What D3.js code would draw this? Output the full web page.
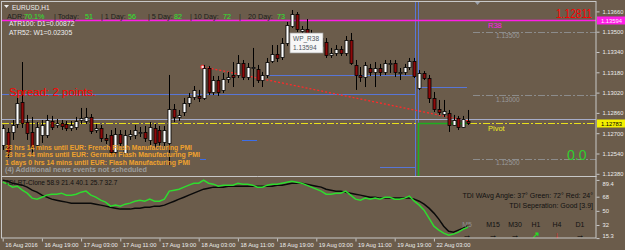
<!DOCTYPE html>
<html>
<head>
<meta charset="utf-8">
<script src="https://cdn.jsdelivr.net/npm/d3@7"></script>
<style>
    body { margin: 0; background: #fff; }
    svg { display: block; font-family: "Liberation Sans", Arial, sans-serif; }
</style>
</head>
<body>
<svg id="chart"></svg>
<script>
const width = 625, height = 250

// EURUSD H1 bars, 16 Aug 11:00 .. 22 Aug 10:00
const opens = [
    1.12607, 1.12710, 1.12710, 1.12773, 1.12946, 1.12788, 1.12710, 1.12607, 1.12686, 1.12686,
    1.12796, 1.12765, 1.12781, 1.12773, 1.12741, 1.12749, 1.12804, 1.12796, 1.12828, 1.12725,
    1.12741, 1.12662, 1.12686, 1.12552, 1.12694, 1.12544, 1.12678, 1.12686, 1.12702, 1.12710,
    1.12647, 1.12741, 1.12725, 1.12631, 1.12623, 1.12891, 1.12828, 1.12867, 1.12938, 1.12985,
    1.12993, 1.12978, 1.13214, 1.13025, 1.13119, 1.13041, 1.13127, 1.13159, 1.13159, 1.13253,
    1.13143, 1.13214, 1.13206, 1.13119, 1.13159, 1.13269, 1.13324, 1.13301, 1.13411, 1.13545,
    1.13640, 1.13506, 1.13521, 1.13490, 1.13403, 1.13450, 1.13419, 1.13316, 1.13332, 1.13364,
    1.13332, 1.13435, 1.13238, 1.13159, 1.13143, 1.13214, 1.13183, 1.13214, 1.13183, 1.13246,
    1.13253, 1.13175, 1.13183, 1.13222, 1.13269, 1.13056, 1.13175, 1.13135, 1.12978, 1.12891,
    1.12851, 1.12859, 1.12765, 1.12820, 1.12749, 1.12796]
const highs = [
    1.12765, 1.12741, 1.12804, 1.12978, 1.13261, 1.12844, 1.12828, 1.12788, 1.12804, 1.12844,
    1.12836, 1.12812, 1.12804, 1.12796, 1.12796, 1.12828, 1.12899, 1.12899, 1.12851, 1.12773,
    1.12765, 1.12694, 1.12725, 1.12741, 1.12725, 1.12725, 1.12725, 1.12765, 1.12749, 1.12757,
    1.12788, 1.12773, 1.12757, 1.12757, 1.13159, 1.12930, 1.12883, 1.12978, 1.13017, 1.13072,
    1.13041, 1.13238, 1.13230, 1.13151, 1.13151, 1.13175, 1.13183, 1.13261, 1.13316, 1.13277,
    1.13253, 1.13372, 1.13238, 1.13183, 1.13293, 1.13395, 1.13395, 1.13450, 1.13577, 1.13671,
    1.13655, 1.13545, 1.13600, 1.13514, 1.13482, 1.13482, 1.13450, 1.13372, 1.13395, 1.13387,
    1.13466, 1.13490, 1.13277, 1.13222, 1.13261, 1.13246, 1.13261, 1.13246, 1.13277, 1.13277,
    1.13277, 1.13214, 1.13246, 1.13293, 1.13293, 1.13198, 1.13190, 1.13159, 1.13025, 1.12962,
    1.12962, 1.12883, 1.12844, 1.12836, 1.12836, 1.12883]
const lows = [
    1.12568, 1.12505, 1.12647, 1.12741, 1.12741, 1.12647, 1.12528, 1.12568, 1.12623, 1.12662,
    1.12725, 1.12741, 1.12725, 1.12717, 1.12717, 1.12725, 1.12773, 1.12773, 1.12694, 1.12702,
    1.12631, 1.12615, 1.12520, 1.12528, 1.12592, 1.12520, 1.12647, 1.12654, 1.12670, 1.12631,
    1.12607, 1.12584, 1.12599, 1.12599, 1.12449, 1.12788, 1.12796, 1.12836, 1.12907, 1.12962,
    1.12946, 1.12962, 1.13001, 1.13001, 1.12993, 1.13017, 1.13096, 1.13064, 1.13135, 1.13119,
    1.13119, 1.13064, 1.13096, 1.13064, 1.13135, 1.13253, 1.13261, 1.13277, 1.13387, 1.13529,
    1.13498, 1.13482, 1.13435, 1.13395, 1.13372, 1.13356, 1.13293, 1.13293, 1.13309, 1.13309,
    1.13309, 1.13238, 1.13041, 1.13104, 1.13064, 1.13151, 1.13064, 1.13151, 1.13159, 1.13175,
    1.13143, 1.13119, 1.13159, 1.13198, 1.13135, 1.13041, 1.13119, 1.12938, 1.12867, 1.12844,
    1.12828, 1.12710, 1.12757, 1.12725, 1.12741, 1.12765]
const closes = [
    1.12741, 1.12552, 1.12765, 1.12938, 1.12781, 1.12702, 1.12592, 1.12749, 1.12765, 1.12804,
    1.12749, 1.12781, 1.12757, 1.12741, 1.12765, 1.12796, 1.12820, 1.12828, 1.12717, 1.12741,
    1.12662, 1.12647, 1.12552, 1.12694, 1.12623, 1.12686, 1.12694, 1.12725, 1.12710, 1.12662,
    1.12749, 1.12623, 1.12631, 1.12725, 1.12891, 1.12828, 1.12844, 1.12938, 1.12985, 1.13041,
    1.12978, 1.13214, 1.13025, 1.13119, 1.13025, 1.13127, 1.13143, 1.13143, 1.13253, 1.13143,
    1.13222, 1.13222, 1.13119, 1.13159, 1.13261, 1.13324, 1.13293, 1.13411, 1.13553, 1.13640,
    1.13521, 1.13521, 1.13490, 1.13419, 1.13450, 1.13387, 1.13316, 1.13332, 1.13364, 1.13332,
    1.13435, 1.13253, 1.13159, 1.13143, 1.13238, 1.13183, 1.13214, 1.13183, 1.13253, 1.13253,
    1.13183, 1.13183, 1.13222, 1.13269, 1.13151, 1.13175, 1.13135, 1.12978, 1.12891, 1.12867,
    1.12875, 1.12765, 1.12804, 1.12749, 1.12812, 1.12783]

// TDI lines (lower window)
const tdiGreen = [
    86.5, 84.0, 80.2, 81.4, 76.3, 72.5, 66.2, 64.9, 67.4, 70.0,
    71.2, 71.2, 72.5, 70.0, 70.0, 71.2, 73.8, 75.1, 70.0, 67.4,
    63.6, 61.1, 56.0, 57.3, 56.0, 58.5, 59.8, 62.3, 63.6, 62.3,
    64.9, 62.3, 62.3, 64.9, 75.1, 76.3, 77.6, 80.2, 82.7, 85.2,
    85.2, 89.1, 85.2, 84.0, 81.4, 82.7, 82.7, 82.7, 85.2, 84.0,
    84.0, 82.7, 80.2, 80.2, 82.7, 84.0, 84.0, 85.2, 86.5, 87.8,
    86.5, 85.2, 82.7, 80.2, 77.6, 75.1, 71.2, 71.2, 72.5, 72.5,
    75.1, 70.0, 64.9, 63.6, 66.2, 64.9, 66.2, 64.9, 67.4, 67.4,
    64.9, 64.9, 66.2, 68.7, 62.3, 57.3, 50.9, 40.7, 30.5, 25.4,
    21.6, 19.1, 20.4, 22.9, 26.7, 29.3]
const tdiBlack = [
    89.1, 87.8, 85.2, 84.0, 82.7, 80.2, 76.3, 73.8, 70.0, 67.4,
    64.9, 63.6, 62.3, 61.1, 59.8, 59.8, 59.8, 59.8, 59.8, 58.5,
    57.3, 56.0, 54.7, 53.4, 52.2, 52.2, 52.2, 53.4, 53.4, 54.7,
    54.7, 56.0, 56.0, 57.3, 59.8, 62.3, 64.9, 67.4, 70.0, 72.5,
    75.1, 77.6, 78.9, 80.2, 80.2, 80.2, 81.4, 81.4, 81.4, 81.4,
    81.4, 81.4, 81.4, 81.4, 81.4, 81.4, 82.7, 82.7, 84.0, 85.2,
    85.2, 85.2, 84.0, 82.7, 81.4, 80.2, 77.6, 76.3, 75.1, 75.1,
    73.8, 72.5, 71.2, 70.0, 68.7, 67.4, 67.4, 66.2, 66.2, 66.2,
    66.2, 66.2, 66.2, 66.2, 64.9, 62.3, 58.5, 53.4, 47.1, 39.5,
    30.5, 24.1, 22.9, 25.4, 28.0, 31.8]

// axes
const timeTicks = [0, 8, 16, 24, 32, 40, 48, 56, 64, 72, 80, 88]
const timeLabels = ["16 Aug 2016", "16 Aug 19:00", "17 Aug 03:00", "17 Aug 11:00", "17 Aug 19:00",
    "18 Aug 03:00", "18 Aug 11:00", "18 Aug 19:00", "19 Aug 03:00", "19 Aug 11:00", "19 Aug 19:00", "22 Aug 03:00"]
const priceTicks = [1.13660, 1.13500, 1.13340, 1.13180, 1.13020, 1.12860, 1.12700, 1.12540, 1.12380]
const tdiTicks = [89.4, 68, 50, 32, 15.3]

// levels drawn on the chart
const r38Level = 1.13594
const askLevel = 1.12811
const pivotLevel = 1.12783
const roundLevels = [1.13500, 1.13000, 1.12500]
const boxTop = 1.13009, boxBottom = 1.12434
const upperBlue = 1.13159, innerBlue = 1.13064
const trendFrom = {bar: 41, price: 1.13222}, trendTo = {bar: 95, price: 1.12796}
const newsLines = [
    "23 hrs 14 mins until EUR: French Flash Manufacturing PMI",
    "23 hrs 44 mins until EUR: German Flash Manufacturing PMI",
    "1 days 0 hrs 14 mins until EUR: Flash Manufacturing PMI",
]
const tfLabels = ["M5", "M15", "M30", "H1", "H4", "D1"]
const tfArrows = ["→", "→", "→", "↗", "↓", "→"]

const bg = "#6b5c4b", frame = "#c8c8c8", axisText = "#ececec"
const mainTop = 2, mainBottom = 176, right = 596, lowBottom = 238

const svg = d3.select("svg#chart")
    .attr("viewBox", [0, 0, width, height])
    .attr("width", width)
    .attr("height", height)

svg.append("rect").attr("width", width).attr("height", height).attr("fill", bg)

const x = d3.scaleLinear().domain([0, 95]).range([2.7, 468.2])
const y = d3.scaleLinear().domain([1.12380, 1.13660]).range([173.8, 11.4])
const yT = d3.scaleLinear().domain([15.3, 89.4]).range([238.1, 179.9])
const px = i => Math.round(x(i)) + 0.5

svg.append("clipPath").attr("id", "clip-main")
    .append("rect").attr("x", 2).attr("y", mainTop).attr("width", right - 2).attr("height", mainBottom - mainTop)
svg.append("clipPath").attr("id", "clip-low")
    .append("rect").attr("x", 2).attr("y", mainBottom + 1).attr("width", right - 2).attr("height", lowBottom - mainBottom - 1)

const main = svg.append("g").attr("clip-path", "url(#clip-main)")
const low = svg.append("g").attr("clip-path", "url(#clip-low)")

function hline(g, price, x1, x2, color, dash, w = 1) {
    g.append("line")
        .attr("x1", x1).attr("x2", x2)
        .attr("y1", Math.round(y(price)) + 0.5).attr("y2", Math.round(y(price)) + 0.5)
        .attr("stroke", color).attr("stroke-width", w)
        .attr("stroke-dasharray", dash)
}

// round number levels
roundLevels.forEach(p => {
    hline(main, p, 473, right, "#8c8c8c", "7,2,2,2")
    main.append("text").attr("x", 496).attr("y", y(p) + 6.5)
        .attr("font-size", 6.5).attr("fill", "#9b9b9b").text(p.toFixed(5))
})

// box / blue lines
hline(main, boxTop, 2, 416, "#5876d6", null)
hline(main, boxBottom, 380, 416, "#5876d6", null)
hline(main, upperBlue, 267, 416, "#5876d6", null)
hline(main, innerBlue, 419, 467, "#5876d6", null)
;[415.5, 418.5].forEach(vx => main.append("line")
    .attr("x1", vx).attr("x2", vx).attr("y1", mainTop).attr("y2", mainBottom)
    .attr("stroke", "#5876d6").attr("stroke-width", 1))

// short blue dashes
main.append("line").attr("x1", 242).attr("x2", 257).attr("y1", 140.5).attr("y2", 140.5).attr("stroke", "#3d6ee8")
main.append("line").attr("x1", 200).attr("x2", 206).attr("y1", 159.5).attr("y2", 159.5).attr("stroke", "#3d6ee8")

// ask line, pivot
hline(main, askLevel, 2, right, "#a6adc9", null)
hline(main, pivotLevel, 2, right, "#e8e01c", "7,2,2,2")
main.append("path")
    .attr("d", `M418.5,${mainBottom}V${Math.round(y(pivotLevel)) + 0.5}H468`)
    .attr("fill", "none").attr("stroke", "#1fae1f").attr("stroke-width", 1.5)

// R38
hline(main, r38Level, 2, right, "#ff1ee6", null, 1.5)

// red trend line
main.append("line")
    .attr("x1", x(trendFrom.bar)).attr("y1", y(trendFrom.price))
    .attr("x2", x(trendTo.bar)).attr("y2", y(trendTo.price))
    .attr("stroke", "#ff2a2a").attr("stroke-width", 1.3).attr("stroke-dasharray", "2,2")
main.append("circle").attr("cx", x(trendFrom.bar) - 1).attr("cy", y(trendFrom.price))
    .attr("r", 1.8).attr("fill", "#f4dede").attr("stroke", "#ff2a2a").attr("stroke-width", 1)

// candles
const candles = opens.map((o, i) => ({i, o, h: highs[i], l: lows[i], c: closes[i]}))
const gC = main.append("g").classed("candles", true)
gC.selectAll("line")
    .data(candles)
    .enter()
    .append("line")
    .attr("x1", d => px(d.i)).attr("x2", d => px(d.i))
    .attr("y1", d => y(d.h)).attr("y2", d => y(d.l))
    .attr("stroke", "#000").attr("stroke-width", 1)
gC.selectAll("rect")
    .data(candles)
    .enter()
    .append("rect")
    .attr("x", d => px(d.i) - 1.5)
    .attr("width", 3)
    .attr("y", d => Math.round(y(Math.max(d.o, d.c))) + 0.5)
    .attr("height", d => Math.max(1, Math.round(Math.abs(y(d.o) - y(d.c)))))
    .attr("fill", d => d.c >= d.o ? "#ffffff" : "#8e0a0a")
    .attr("stroke", "#000").attr("stroke-width", 0.8)

// chart texts
main.append("text").attr("x", 488).attr("y", 28).attr("font-size", 7.5).attr("fill", "#ff1ee6").text("R38")
main.append("text").attr("x", 488).attr("y", 131).attr("font-size", 7.5).attr("fill", "#eeea22").text("Pivot")
main.append("text").attr("x", 592).attr("y", 17.5).attr("text-anchor", "end")
    .attr("font-size", 13).attr("fill", "#ff0000")
    .attr("textLength", 36).attr("lengthAdjust", "spacingAndGlyphs").text(askLevel.toFixed(5))
main.append("text").attr("x", 567).attr("y", 160).attr("font-size", 14).attr("fill", "#2fcf2f").text("0.0")
main.append("text").attr("x", 9).attr("y", 95.5).attr("font-size", 11.5).attr("fill", "#ff0000").text("Spread: 2 points.")
main.append("path").attr("d", "M475,2h5l-2.5,3z").attr("fill", "#9aa0aa")

// tooltip
const tip = main.append("g").attr("transform", "translate(290,33)")
tip.append("rect").attr("width", 33).attr("height", 20).attr("fill", "#f7f7f7").attr("stroke", "#9a9a9a").attr("stroke-width", 0.7)
tip.append("text").attr("x", 3).attr("y", 8).attr("font-size", 6.5).attr("fill", "#4d5560").text("WP_R38")
tip.append("text").attr("x", 3).attr("y", 16.5).attr("font-size", 6.5).attr("fill", "#4d5560").text(r38Level.toFixed(5))

// header
svg.append("path").attr("d", "M4,5h5l-2.5,3z").attr("fill", "#eee")
svg.append("text").attr("x", 12).attr("y", 9.5).attr("font-size", 6.5).attr("fill", "#eee").text("EURUSD,H1")
const adr = [["ADR:", 7, 0], ["70.1%", 24, 1], ["| Today:", 54, 0], ["51", 85, 1], ["| 1 Day:", 101, 0], ["56", 128, 1],
    ["| 5 Day:", 148, 0], ["82", 174, 1], ["| 10 Day:", 190, 0], ["72", 223, 1], ["|", 239, 0], ["20 Day:", 248, 0], ["73", 277, 1]]
const adrText = svg.append("text").attr("y", 19).attr("font-size", 7.2)
adrText.selectAll("tspan").data(adr).enter().append("tspan")
    .attr("x", d => d[1]).attr("fill", d => d[2] ? "#2ee82e" : "#1c1c1c").text(d => d[0])
svg.append("text").attr("x", 9).attr("y", 26).attr("font-size", 6.8).attr("fill", "#eee").text("ATR100: D1=0.00872")
svg.append("text").attr("x", 9).attr("y", 34.5).attr("font-size", 6.8).attr("fill", "#eee").text("ATR52: W1=0.02305")

// news
const newsW = [187, 195, 185]
newsLines.forEach((t, i) => svg.append("text")
    .attr("x", 5).attr("y", 149.5 + i * 7.6).attr("font-size", 7).attr("font-weight", "bold")
    .attr("fill", "#f0a22e").attr("textLength", newsW[i]).attr("lengthAdjust", "spacingAndGlyphs").text(t))
svg.append("text").attr("x", 5).attr("y", 172.3).attr("font-size", 7).attr("font-weight", "bold")
    .attr("fill", "#9c9c9c").attr("textLength", 142).attr("lengthAdjust", "spacingAndGlyphs")
    .text("(4)  Additional news events not scheduled")

// TDI lines
const tdiLine = d3.line().x((d, i) => x(i)).y(d => yT(d))
low.append("path").datum(tdiBlack).attr("d", tdiLine).attr("fill", "none").attr("stroke", "#0a0a0a").attr("stroke-width", 1.5)
low.append("path").datum(tdiGreen).attr("d", tdiLine).attr("fill", "none").attr("stroke", "#2fdc2f").attr("stroke-width", 1.5)

svg.append("text").attr("x", 5).attr("y", 184.5).attr("font-size", 6.5).attr("fill", "#111")
    .text("TDI-RT-Clone 58.9 21.4 40.1 25.7 32.7")
svg.append("text").attr("x", 593).attr("y", 198).attr("text-anchor", "end").attr("font-size", 7).attr("fill", "#111")
    .text("TDI WAvg Angle: 37°  Green: 72°  Red: 24°")
svg.append("text").attr("x", 593).attr("y", 208).attr("text-anchor", "end").attr("font-size", 7).attr("fill", "#111")
    .text("TDI Seperation: Good [3.9]")
const tfX = [467, 493, 515, 536, 557, 580]
tfLabels.forEach((t, i) => {
    svg.append("text").attr("x", tfX[i]).attr("y", 226.5).attr("text-anchor", "middle")
        .attr("font-size", 7).attr("fill", i === 0 ? "#8f8f8f" : "#111").text(t)
    svg.append("text").attr("x", tfX[i]).attr("y", 238).attr("text-anchor", "middle")
        .attr("font-size", 9).attr("font-weight", "bold")
        .attr("fill", tfArrows[i] === "↗" ? "#22dd22" : tfArrows[i] === "↓" ? "#ff1a1a" : "#000").text(tfArrows[i])
})

// frame
svg.append("rect").attr("x", 1.5).attr("y", 1.5).attr("width", right - 1.5).attr("height", lowBottom - 1.5)
    .attr("fill", "none").attr("stroke", frame)
svg.append("line").attr("x1", 1.5).attr("x2", right + 0.5).attr("y1", mainBottom + 0.5).attr("y2", mainBottom + 0.5).attr("stroke", frame)

// price axis
svg.append("g").classed("y-axis", true)
    .attr("transform", `translate(${right + 0.5}, 0)`)
    .call(d3.axisRight(y).tickValues(priceTicks).tickSize(3).tickFormat(d3.format(".5f")))
    .call(g => g.select(".domain").remove())

// TDI axis
svg.append("g").classed("y-axis", true)
    .attr("transform", `translate(${right + 0.5}, 0)`)
    .call(d3.axisRight(yT).tickValues(tdiTicks).tickSize(3).tickFormat(d => d))
    .call(g => g.select(".domain").remove())
    .call(g => g.selectAll(".tick text").attr("dy", d => d === 89.4 ? "0.95em" : d === 15.3 ? "-0.05em" : "0.32em"))

// time axis
svg.append("g").classed("x-axis", true)
    .attr("transform", `translate(0, ${lowBottom + 0.5})`)
    .call(d3.axisBottom(x).tickValues(timeTicks).tickSize(3).tickFormat((d, i) => timeLabels[i]))
    .call(g => g.select(".domain").remove())
    .call(g => g.selectAll(".tick text").attr("text-anchor", "start").attr("x", 2).attr("y", 4))

svg.selectAll(".x-axis, .y-axis")
    .attr("font-family", "Liberation Sans, Arial, sans-serif")
    .attr("font-size", 5.8)
svg.selectAll(".tick line").attr("stroke", frame)
svg.selectAll(".tick text").attr("fill", axisText)

// price tags on the axis
const tags = [[r38Level, "#ff1ee6", "#ffe8fb"], [pivotLevel, "#f4f000", "#000"]]
tags.forEach(([p, fill, ink]) => {
    const ty = Math.round(y(p)) - 3.5
    svg.append("rect").attr("x", right + 1).attr("y", ty).attr("width", 28).attr("height", 8).attr("fill", fill)
    svg.append("text").attr("x", right + 5).attr("y", ty + 6.3).attr("font-size", 5.8).attr("fill", ink).text(p.toFixed(5))
})
</script>
</body>
</html>
